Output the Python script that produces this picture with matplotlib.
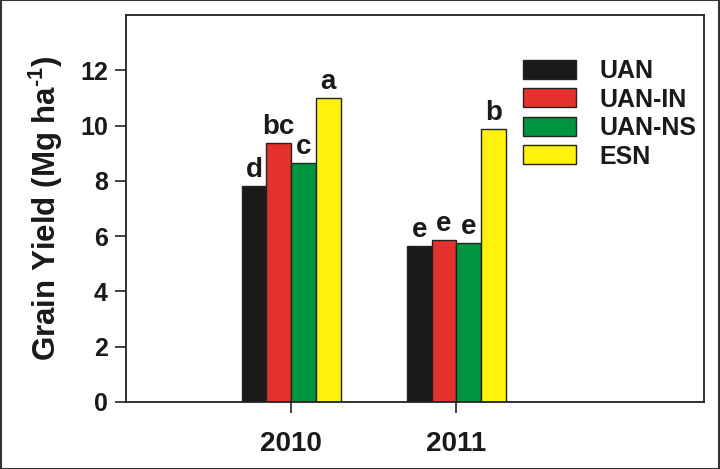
import matplotlib
matplotlib.use("Agg")
import matplotlib.pyplot as plt
import numpy as np

years = ["2010", "2011"]
treatments = ["UAN", "UAN-IN", "UAN-NS", "ESN"]
values = {
    "UAN":    [7.83, 5.65],
    "UAN-IN": [9.38, 5.87],
    "UAN-NS": [8.66, 5.76],
    "ESN":    [11.01, 9.89],
}
letters = {
    "UAN":    ["d", "e"],
    "UAN-IN": ["bc", "e"],
    "UAN-NS": ["c", "e"],
    "ESN":    ["a", "b"],
}
colors = ["#1a1a1a", "#e5312b", "#00953e", "#fff20d"]
yticks = [0, 2, 4, 6, 8, 10, 12]

reg = "Liberation Sans"
plt.rcParams["mathtext.fontset"] = "custom"
plt.rcParams["mathtext.rm"] = "Liberation Sans:bold"
plt.rcParams["mathtext.bf"] = "Liberation Sans:bold"
plt.rcParams["mathtext.it"] = "Liberation Sans:bold"

fig = plt.figure(figsize=(7.2, 4.69), dpi=100)
ax = fig.add_axes([0.175, 0.143, 0.803, 0.825])

x = np.arange(1, len(years) + 1)
w = 0.15
for i, t in enumerate(treatments):
    pos = x + (i - 1.5) * w
    ax.bar(pos, values[t], width=w, color=colors[i], edgecolor="#222222",
           linewidth=1.0, label=t, zorder=2)
    for p, v, lab in zip(pos, values[t], letters[t]):
        ax.text(p, v + 0.1, lab, ha="center", va="bottom", fontsize=20,
                fontweight="bold", family=reg, color="#1a1a1a")

ax.set_xlim(0, 3.5)
ax.set_ylim(0, 14)
ax.set_xticks(x)
ax.set_xticklabels(years, fontsize=20, fontweight="bold", family=reg)
ax.set_yticks(yticks)
ax.set_yticklabels([str(v) for v in yticks], fontsize=18, fontweight="bold", family=reg)
ax.tick_params(axis="both", direction="out", length=8, width=1.2, color="#222222",
               labelcolor="#1a1a1a")
ax.tick_params(axis="x", pad=13)
ax.tick_params(axis="y", pad=5)
for s in ax.spines.values():
    s.set_linewidth(1.3)
    s.set_color("#222222")

ax.set_ylabel("Grain Yield (Mg ha$^{\\text{-1}}$)", fontsize=22.5, fontweight="bold",
              family=reg, labelpad=11, color="#1a1a1a")

leg = ax.legend(loc="upper left", bbox_to_anchor=(0.67, 0.912), frameon=False,
                prop={"family": reg, "weight": "bold", "size": 18},
                handlelength=2.1, handleheight=0.8, handletextpad=0.95,
                labelspacing=0.18, borderaxespad=0)
for txt in leg.get_texts():
    txt.set_color("#1a1a1a")

fig.patches.append(plt.Rectangle((0.0007, 0.001), 0.9986, 0.998, transform=fig.transFigure,
                                 fill=False, edgecolor="#333333", linewidth=1.5))

fig.savefig("out.png", dpi=100)
